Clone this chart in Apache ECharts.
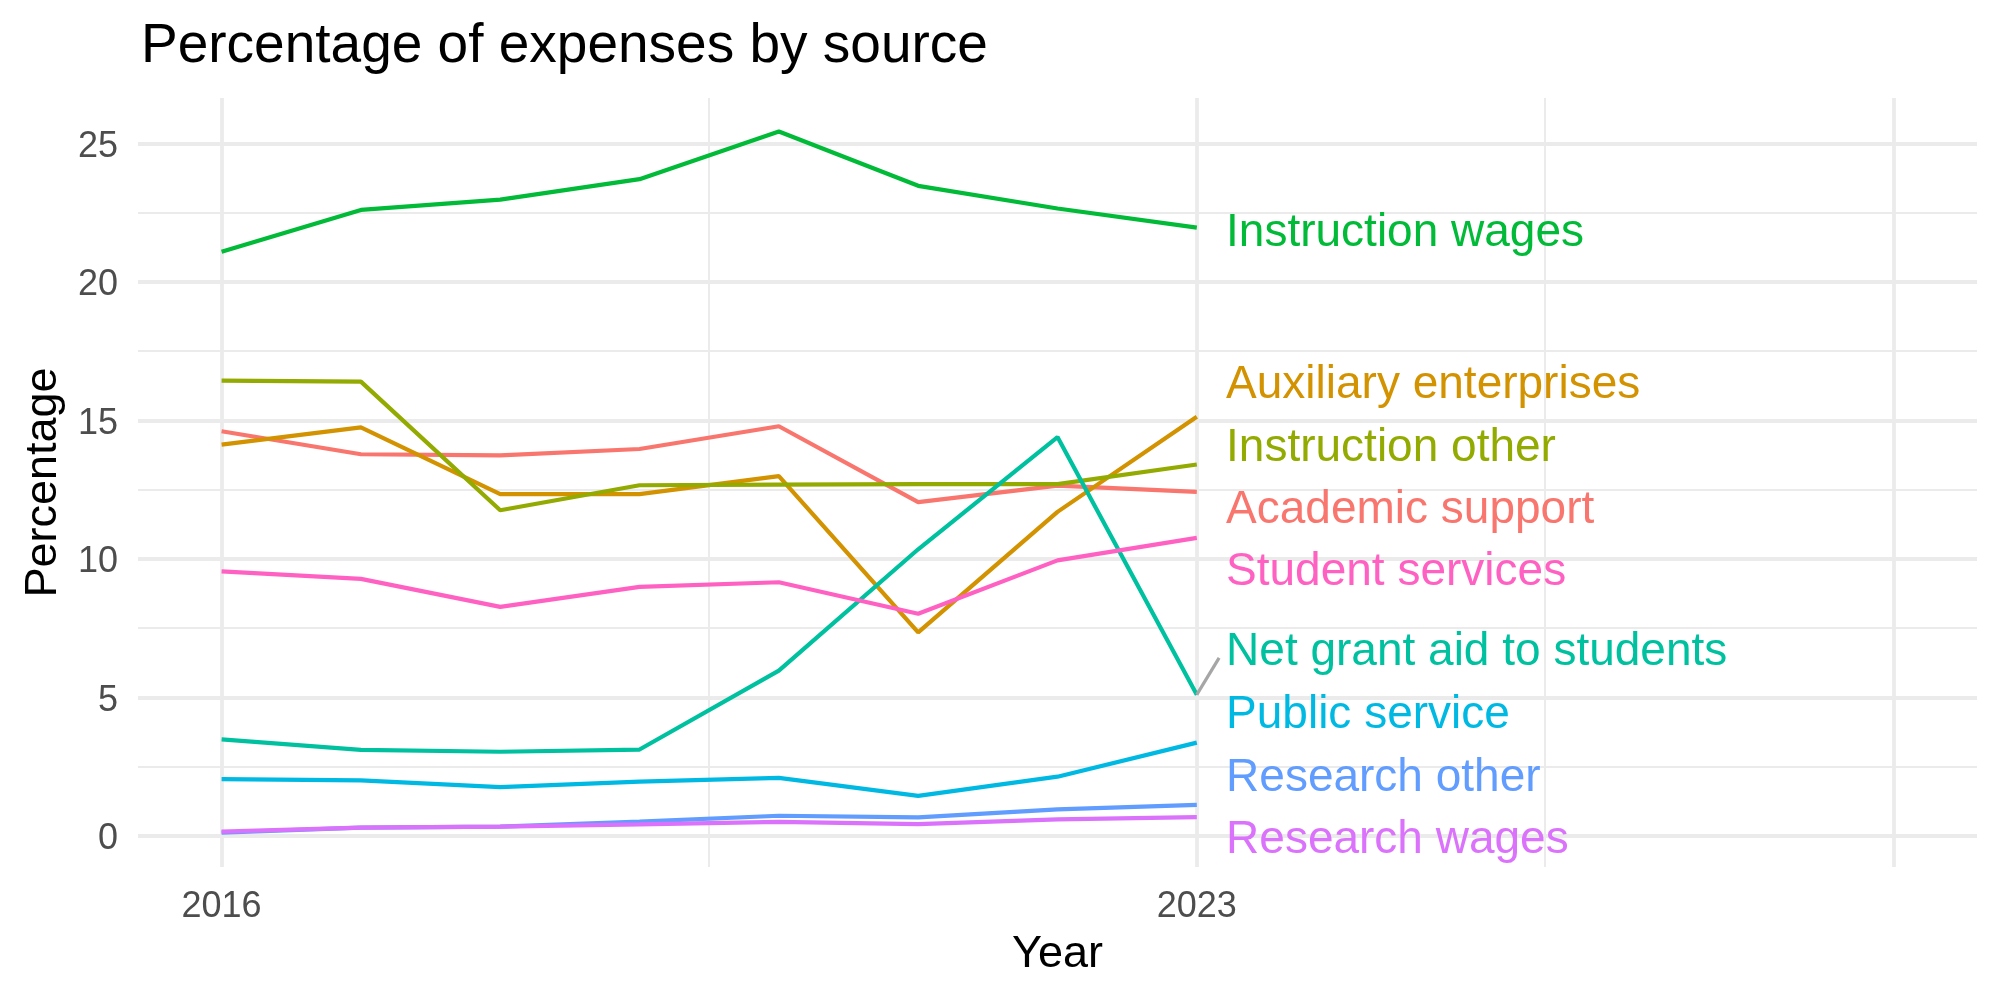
<!DOCTYPE html>
<html>
<head>
<meta charset="utf-8">
<title>Percentage of expenses by source</title>
<script src="https://cdn.jsdelivr.net/npm/echarts@6/dist/echarts.min.js"></script>
<style>
  html, body { margin: 0; padding: 0; background: #fff; }
  #chart { width: 2000px; height: 1000px; }
</style>
</head>
<body>
<div id="chart"></div>
<script>
// values
var years = [2016, 2017, 2018, 2019, 2020, 2021, 2022, 2023];
var academicSupport      = [14.61, 13.78, 13.74, 13.97, 14.79, 12.05, 12.65, 12.42];
var auxiliaryEnterprises = [14.13, 14.75, 12.34, 12.34, 12.99, 7.35, 11.70, 15.13];
var instructionOther     = [16.44, 16.40, 11.76, 12.66, 12.68, 12.70, 12.70, 13.41];
var instructionWages     = [21.09, 22.60, 22.97, 23.71, 25.43, 23.47, 22.65, 21.96];
var netGrantAid          = [3.49, 3.11, 3.04, 3.12, 5.97, 10.35, 14.40, 5.10];
var publicService        = [2.05, 2.01, 1.76, 1.96, 2.10, 1.45, 2.14, 3.37];
var researchOther        = [0.12, 0.30, 0.34, 0.52, 0.73, 0.67, 0.96, 1.12];
var researchWages        = [0.16, 0.30, 0.34, 0.42, 0.51, 0.43, 0.60, 0.68];
var studentServices      = [9.55, 9.28, 8.27, 8.99, 9.16, 8.02, 9.95, 10.76];

var names = ["Academic support", "Auxiliary enterprises", "Instruction other", "Instruction wages",
  "Net grant aid to students", "Public service", "Research other", "Research wages", "Student services"];
var colors = ["#F8766D", "#D39200", "#93AA00", "#00BA38", "#00C19F", "#00B9E3", "#619CFF", "#DB72FB", "#FF61C3"];
var values = [academicSupport, auxiliaryEnterprises, instructionOther, instructionWages,
  netGrantAid, publicService, researchOther, researchWages, studentServices];

// repelled label positions (y) at the right end
var labelX = 2023.21;
var labelY = [11.90, 16.42, 14.13, 21.90, 6.78, 4.49, 2.24, -0.02, 9.67];
// the one visible repel segment (net grant aid)
var segmentX = [2023, 2023.16];
var segmentY = [5.10, 6.43];

// axis ticks / grid
var xLabels = [2016, 2023];
var xMajor = [2016, 2023, 2028];
var xMinor = [2019.5, 2025.5];
var yLabels = [0, 5, 10, 15, 20, 25];
var yMinor = [2.5, 7.5, 12.5, 17.5, 22.5];

var font = "'Liberation Sans', Arial, Helvetica, sans-serif";
var gridColor = "#EBEBEB";

var myChart = echarts.init(document.getElementById("chart"));

function gridSeries(data, width) {
  return {
    type: "line",
    data: [],
    silent: true,
    z: 0,
    markLine: {
      silent: true,
      z: 0,
      symbol: ["none", "none"],
      label: { show: false },
      emphasis: { disabled: true },
      lineStyle: { color: gridColor, width: width, type: "solid" },
      animation: false,
      data: data
    }
  };
}

var series = [];
series.push(gridSeries(yMinor.map(function (v) { return { yAxis: v }; }), 2));
series.push(gridSeries(xMinor.map(function (v) { return { xAxis: v }; }), 2));
series.push(gridSeries(yLabels.map(function (v) { return { yAxis: v }; }), 3.8));
series.push(gridSeries(xMajor.map(function (v) { return { xAxis: v }; }), 3.8));

for (var i = 0; i < names.length; i++) {
  series.push({
    name: names[i],
    type: "line",
    z: 3,
    showSymbol: false,
    smooth: false,
    lineStyle: { color: colors[i], width: 4.2 },
    itemStyle: { color: colors[i] },
    data: years.map(function (y, k) { return [y, values[i][k]]; })
  });
}

// grey segment
series.push({
  type: "line",
  z: 3,
  showSymbol: false,
  lineStyle: { color: "#A6A6A6", width: 3.2 },
  data: segmentX.map(function (x, k) { return [x, segmentY[k]]; })
});

// text labels
series.push({
  type: "scatter",
  z: 6,
  symbolSize: 0,
  silent: true,
  itemStyle: { opacity: 1 },
  data: names.map(function (n, k) {
    return {
      value: [labelX, labelY[k]],
      name: n,
      label: { color: colors[k] }
    };
  }),
  label: {
    show: true,
    position: "right",
    distance: 0,
    offset: [0, 4],
    opacity: 1,
    formatter: "{b}",
    fontSize: 46,
    fontFamily: font,
    verticalAlign: "middle"
  }
});

var option = {
  animation: false,
  backgroundColor: "#ffffff",
  title: {
    text: "Percentage of expenses by source",
    left: 136,
    top: 14,
    textStyle: { fontSize: 55, fontWeight: "normal", color: "#000000", fontFamily: font }
  },
  tooltip: { show: false },
  grid: { left: 138, right: 23, top: 98, bottom: 133 },
  xAxis: {
    type: "value",
    min: 2015.4,
    max: 2028.6,
    name: "Year",
    nameLocation: "middle",
    nameGap: 65,
    nameTextStyle: { fontSize: 45, color: "#000000", fontFamily: font },
    axisLine: { show: false },
    axisTick: { show: false },
    splitLine: { show: false },
    axisLabel: {
      customValues: xLabels,
      formatter: function (v) { return String(v); },
      fontSize: 36,
      color: "#4D4D4D",
      fontFamily: font,
      margin: 22
    }
  },
  yAxis: {
    type: "value",
    min: -1.12,
    max: 26.64,
    name: "Percentage",
    nameLocation: "middle",
    nameGap: 72,
    nameRotate: 90,
    nameTextStyle: { fontSize: 45, color: "#000000", fontFamily: font },
    axisLine: { show: false },
    axisTick: { show: false },
    splitLine: { show: false },
    axisLabel: {
      customValues: yLabels,
      formatter: function (v) { return "{t|" + v + "}"; },
      fontFamily: font,
      margin: 20,
      rich: {
        t: { fontSize: 36, color: "#4D4D4D", fontFamily: font, padding: [7, 0, 0, 0] }
      }
    }
  },
  series: series
};

myChart.setOption(option);
window.onresize = function () {
  myChart.resize();
};
</script>
</body>
</html>
